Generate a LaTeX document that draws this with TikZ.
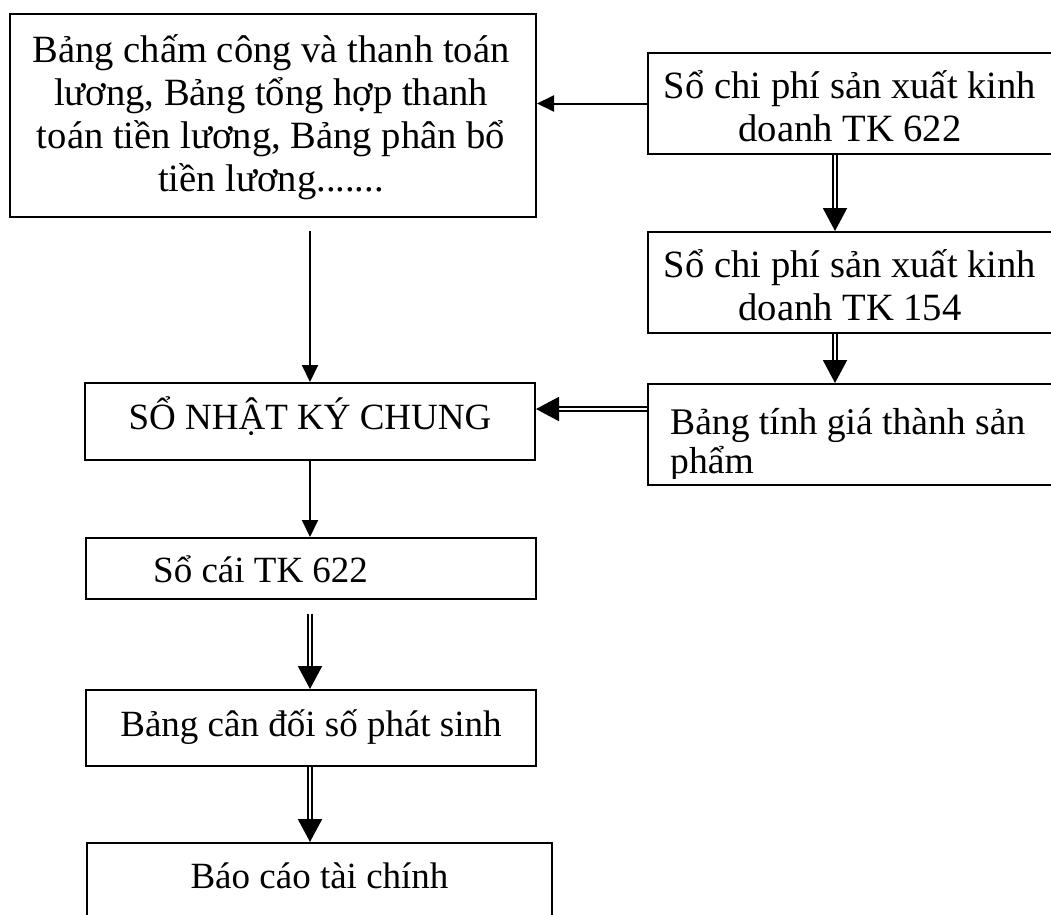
\documentclass[tikz,border=0pt]{standalone}
\usepackage{fontspec}
\setmainfont{Liberation Serif}
\usetikzlibrary{arrows.meta}
\begin{document}
\begin{tikzpicture}[x=1pt,y=-1pt,
  box/.style={draw, line width=2pt, inner sep=0pt, rectangle},
  txt/.style={inner sep=0pt, font=\fontsize{37}{43}\selectfont},
  bigtxt/.style={inner sep=0pt, font=\fontsize{38.6}{43}\selectfont},
  single/.style={line width=2pt, -{Triangle[length=17pt,width=16pt]}},
  dbl/.style={double, line width=2pt, double distance=1.6pt, -{Triangle[length=23pt,width=24pt]}},
]
\clip (0,0) rectangle (1051,914);
% boxes
\node[box, minimum width=526pt, minimum height=203pt] (A) at (273,115.5) {};
\node[box, minimum width=412pt, minimum height=101pt] (B) at (854,103.5) {};
\node[box, minimum width=412pt, minimum height=101pt] (C) at (854,282.5) {};
\node[box, minimum width=412pt, minimum height=101pt] (D) at (854,434.5) {};
\node[box, minimum width=450pt, minimum height=77pt] (E) at (310,421.5) {};
\node[box, minimum width=450pt, minimum height=61pt] (F) at (311,568.5) {};
\node[box, minimum width=450pt, minimum height=76pt] (G) at (311,728) {};
\node[box, minimum width=465pt, minimum height=80pt] (H) at (319.5,883) {};
% texts
\node[bigtxt, anchor=base] (a1) at (271,62) {Bảng chấm công và thanh toán};
\node[bigtxt, anchor=base] (a2) at (271,105) {lương, Bảng tổng hợp thanh};
\node[bigtxt, anchor=base] (a3) at (271,148) {toán tiền lương, Bảng phân bổ};
\node[bigtxt, anchor=base] (a4) at (271,191) {tiền lương.......};
\node[bigtxt, anchor=base] (b1) at (850,98) {Sổ chi phí sản xuất kinh};
\node[bigtxt, anchor=base] (b2) at (850,141) {doanh TK 622};
\node[bigtxt, anchor=base] (c1) at (850,277) {Sổ chi phí sản xuất kinh};
\node[bigtxt, anchor=base] (c2) at (850,320) {doanh TK 154};
\begin{scope}
\clip (648,385) rectangle (1060,478);
\node[txt, anchor=base west, font=\fontsize{37.6}{43}\selectfont] (d1) at (670,434) {Bảng tính giá thành sản};
\node[txt, anchor=base west, font=\fontsize{37.6}{43}\selectfont] (d2) at (670,473) {phẩm};
\end{scope}
\node[txt, anchor=base] (e1) at (310,429) {SỔ NHẬT KÝ CHUNG};
\node[txt, anchor=base west] (f1) at (153,582) {Sổ cái TK 622};
\node[txt, anchor=base] (g1) at (311,736) {Bảng cân đối số phát sinh};
\node[txt, anchor=base] (h1) at (319.5,888) {Báo cáo tài chính};
% connectors
\coordinate (rx) at (835,0);
\coordinate (ry) at (0,409);
\draw[single] (B.west) -- (B.west -| A.east);
\draw[single, shorten <=13pt] (A.south -| E.north) -- (E.north);
\draw[dbl] (B.south -| rx) -- (C.north -| rx);
\draw[dbl] (C.south -| rx) -- (D.north -| rx);
\draw[dbl] (D.west |- ry) -- (E.east |- ry);
\draw[single] (E.south) -- (E.south |- F.north);
\draw[dbl, shorten <=14pt] (F.south -| E.south) -- (G.north -| E.south);
\draw[dbl] (G.south -| E.south) -- (H.north -| E.south);
\end{tikzpicture}
\end{document}
